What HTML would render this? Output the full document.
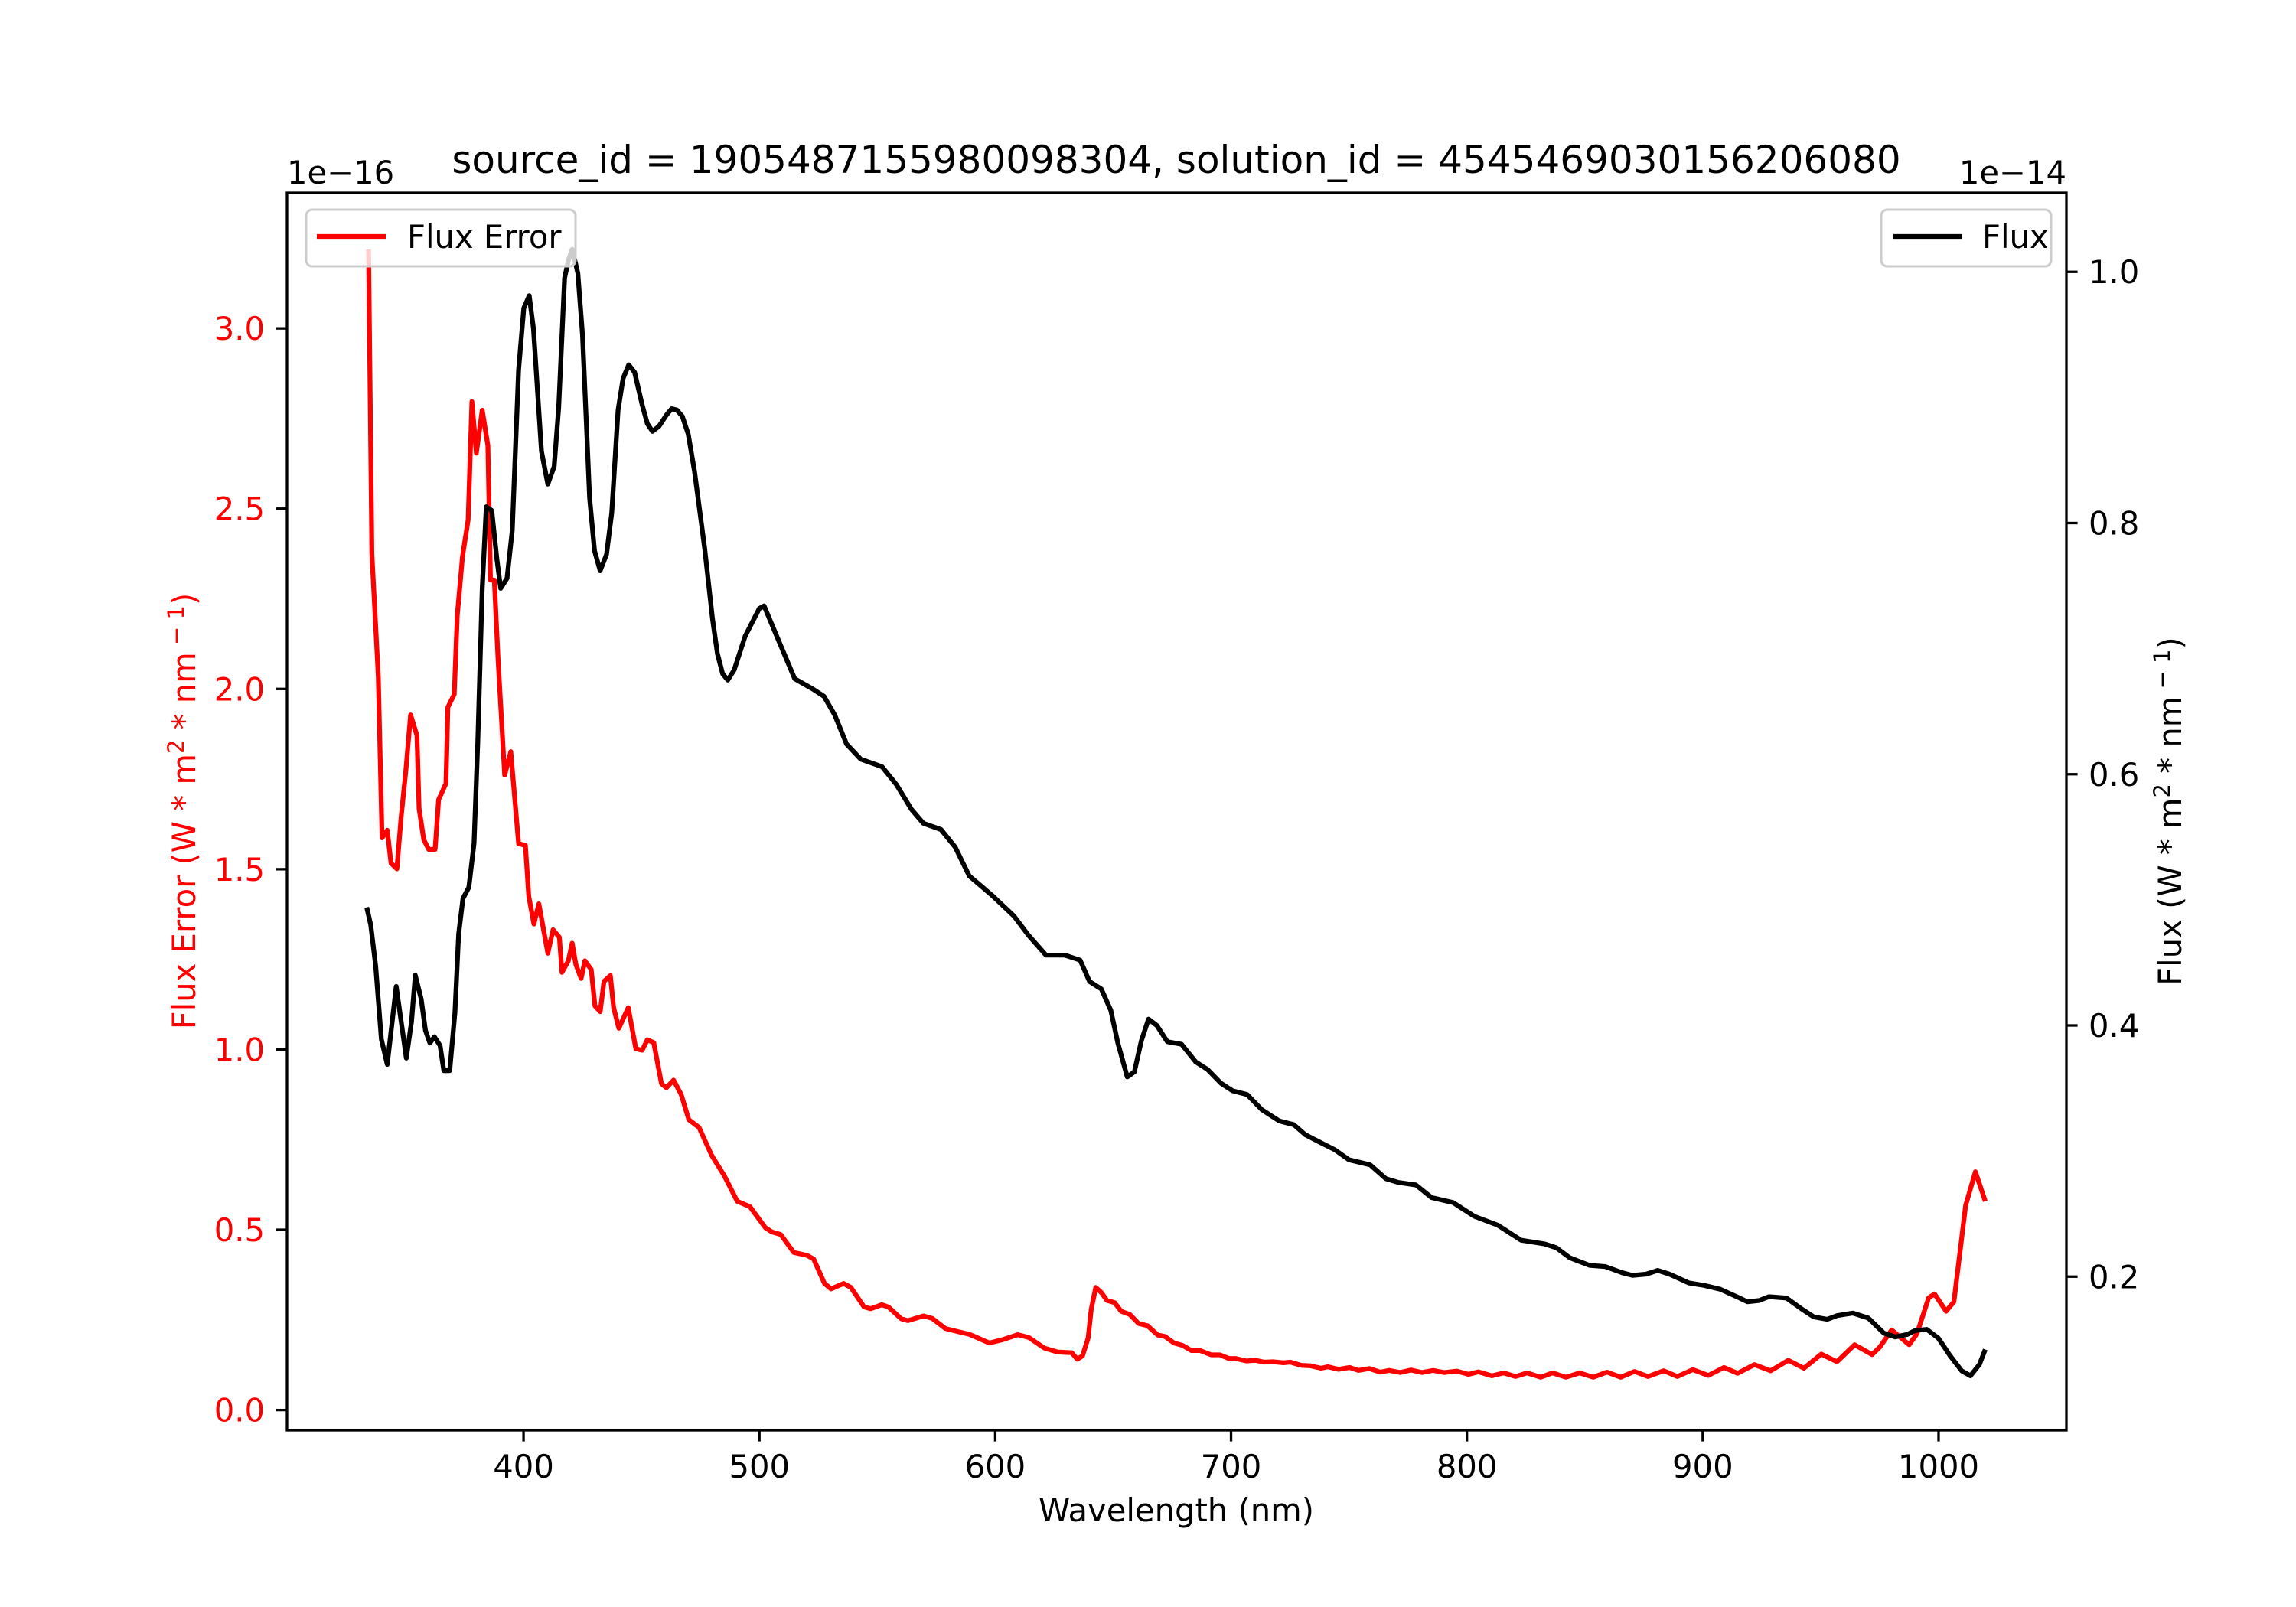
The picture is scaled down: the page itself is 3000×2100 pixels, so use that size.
<!DOCTYPE html>
<html><head><meta charset="utf-8"><style>
html,body{margin:0;padding:0;background:#fff;}
svg{display:block;font-family:"DejaVu Sans","Liberation Sans",sans-serif;}
</style></head><body>
<svg id="chart" width="3000" height="2100" viewBox="0 0 3000 2100">
<rect width="3000" height="2100" fill="#fff"/>
<g id="plot"></g>
<rect x="375" y="252" width="2325" height="1617" fill="none" stroke="#000" stroke-width="3.3"/>
<g id="xticks"></g>
<g id="lticks"></g>
<g id="rticks"></g>
<text x="1537" y="226" text-anchor="middle" font-size="50">source_id = 1905487155980098304, solution_id = 4545469030156206080</text>
<text x="375" y="240" font-size="41.7">1e−16</text>
<text x="2700" y="240" text-anchor="end" font-size="41.7">1e−14</text>
<text x="1537" y="1988" text-anchor="middle" font-size="41.7">Wavelength (nm)</text>
<text transform="translate(255,1060) rotate(-90)" text-anchor="middle" font-size="41.7" fill="#ff0000">Flux Error (W * m<tspan font-size="29" dy="-15">2</tspan><tspan dy="15"> * nm</tspan><tspan font-size="29" dy="-15"> − 1</tspan><tspan dy="15">)</tspan></text>
<text transform="translate(2850,1060) rotate(-90)" text-anchor="middle" font-size="41.7" fill="#000">Flux (W * m<tspan font-size="29" dy="-15">2</tspan><tspan dy="15"> * nm</tspan><tspan font-size="29" dy="-15"> − 1</tspan><tspan dy="15">)</tspan></text>
<g>
<rect x="400" y="274" width="352" height="74" rx="8" fill="#fff" fill-opacity="0.8" stroke="#ccc" stroke-width="3"/>
<line x1="414" y1="309" x2="504" y2="309" stroke="#ff0000" stroke-width="6.25"/>
<text x="532" y="324" font-size="41.7">Flux Error</text>
</g>
<g>
<rect x="2458" y="274" width="222" height="74" rx="8" fill="#fff" fill-opacity="0.8" stroke="#ccc" stroke-width="3"/>
<line x1="2474" y1="309" x2="2564" y2="309" stroke="#000" stroke-width="6.25"/>
<text x="2590" y="324" font-size="41.7">Flux</text>
</g>
</svg>
<script>
const errWave = [334.3,335.7,338.4,340.0,342.2,343.8,346.3,348.1,350.1,352.1,354.8,355.7,357.7,359.8,362.5,364.0,367.1,367.9,370.6,371.9,374.1,376.5,378.1,380.0,382.5,384.9,386.0,387.6,389.2,392.0,394.6,397.9,400.8,402.2,404.4,406.5,410.3,412.5,415.2,416.3,419.0,420.6,422.2,424.4,426.0,428.7,430.3,432.5,434.1,436.8,438.2,440.4,444.4,447.6,450.3,452.5,455.2,458.5,460.6,463.6,466.8,470.1,474.4,479.8,485.2,490.6,496.0,502.5,505.3,509.0,514.6,520.2,523.0,527.6,530.4,535.7,538.8,544.4,547.2,551.9,554.7,560.2,563.0,569.6,573.3,578.9,584.5,589.1,597.5,603.1,609.6,614.3,620.8,626.4,632.5,634.8,637.0,639.4,640.7,642.6,645.0,647.4,650.6,653.4,657.1,660.8,664.6,668.9,672.0,675.8,679.5,683.2,686.9,691.6,695.3,699.0,701.8,706.5,710.2,713.9,717.7,722.3,725.1,729.8,733.5,738.2,741.0,745.6,750.3,754.0,758.6,763.3,767.0,771.7,776.3,781.0,785.7,790.3,795.8,800.7,804.9,810.6,815.6,820.6,825.5,831.3,836.3,842.0,847.8,853.6,859.4,865.2,871.0,876.8,883.4,889.2,895.8,902.4,909.0,914.8,921.9,928.8,936.3,942.9,950.3,956.9,964.4,971.8,975.1,980.1,987.5,990.8,995.8,998.3,1003.2,1006.5,1011.5,1015.6,1019.8];
const errVals = [3.219,2.375,2.034,1.587,1.608,1.517,1.501,1.644,1.774,1.928,1.871,1.668,1.582,1.555,1.555,1.693,1.738,1.949,1.985,2.204,2.367,2.469,2.797,2.654,2.773,2.675,2.302,2.302,2.082,1.761,1.826,1.571,1.566,1.425,1.348,1.404,1.267,1.332,1.311,1.214,1.246,1.295,1.235,1.197,1.246,1.222,1.121,1.105,1.189,1.205,1.116,1.059,1.116,1.002,0.998,1.027,1.019,0.905,0.894,0.915,0.876,0.805,0.784,0.706,0.649,0.579,0.564,0.506,0.494,0.487,0.437,0.429,0.419,0.351,0.336,0.351,0.340,0.286,0.281,0.292,0.286,0.253,0.248,0.261,0.254,0.226,0.217,0.210,0.186,0.195,0.209,0.201,0.172,0.161,0.159,0.141,0.150,0.200,0.279,0.340,0.326,0.304,0.298,0.274,0.265,0.240,0.234,0.208,0.204,0.186,0.179,0.165,0.165,0.153,0.153,0.143,0.143,0.136,0.138,0.133,0.134,0.131,0.133,0.124,0.123,0.116,0.120,0.113,0.118,0.110,0.115,0.105,0.110,0.104,0.111,0.104,0.110,0.104,0.108,0.099,0.106,0.095,0.103,0.093,0.103,0.091,0.103,0.091,0.103,0.091,0.105,0.091,0.107,0.093,0.109,0.093,0.112,0.096,0.118,0.102,0.126,0.109,0.138,0.116,0.155,0.134,0.181,0.154,0.175,0.222,0.181,0.211,0.311,0.322,0.274,0.300,0.568,0.661,0.579];
const fluxWave = [333.5,335.2,337.3,339.7,342.2,346.0,350.3,352.5,354.1,356.6,358.4,360.3,362.2,364.6,366.2,368.7,370.9,372.5,374.3,376.8,379.0,380.6,382.5,384.2,386.5,388.7,390.3,393.0,395.2,397.9,400.1,402.4,404.2,407.6,410.3,413.0,414.9,417.4,419.0,420.6,423.0,425.0,428.0,430.1,432.5,435.2,437.4,440.1,442.2,444.6,447.1,450.3,452.5,454.7,457.4,460.6,462.8,465.0,467.3,469.8,472.5,476.8,480.1,482.2,484.4,486.6,489.3,494,500,502,507.6,515,522.5,527.4,532,537,543,552,558,564.5,569.5,577,583,589,594,599,608,614,621.5,629.5,636,640,645,649,652,656,659,662,665,668.5,673,679,685,690,695.7,700.6,706.8,713,720.4,726.6,731.5,737.7,744,750,759,765.6,771,778.4,785.0,794.1,803.2,813.1,823.0,833.0,837.9,843.7,852.0,858.6,866.0,870.2,876.0,880.9,885.9,894.1,900.7,907.4,915.6,918.9,923.9,928.0,935.5,942.1,947.0,952.8,957.0,963.6,970.2,976.8,981.7,986.7,990.0,995.0,999.9,1004.9,1009.8,1013.5,1017.3,1019.8];
const fluxVals = [0.494,0.480,0.447,0.389,0.369,0.431,0.374,0.403,0.440,0.421,0.396,0.386,0.391,0.384,0.364,0.364,0.410,0.473,0.501,0.510,0.545,0.626,0.748,0.813,0.810,0.771,0.748,0.756,0.794,0.922,0.971,0.981,0.955,0.857,0.831,0.845,0.892,0.995,1.009,1.018,0.999,0.950,0.820,0.778,0.762,0.775,0.808,0.890,0.915,0.926,0.920,0.894,0.879,0.873,0.877,0.886,0.891,0.890,0.885,0.871,0.841,0.780,0.724,0.696,0.680,0.675,0.683,0.710,0.732,0.734,0.709,0.676,0.668,0.662,0.647,0.624,0.612,0.606,0.592,0.572,0.561,0.556,0.542,0.519,0.511,0.503,0.487,0.472,0.456,0.456,0.452,0.435,0.429,0.412,0.386,0.359,0.363,0.388,0.405,0.400,0.387,0.385,0.371,0.365,0.354,0.348,0.345,0.333,0.324,0.321,0.313,0.307,0.301,0.293,0.289,0.278,0.275,0.273,0.263,0.259,0.248,0.241,0.229,0.226,0.223,0.215,0.209,0.208,0.203,0.201,0.202,0.205,0.202,0.195,0.193,0.190,0.183,0.180,0.181,0.184,0.183,0.174,0.168,0.166,0.169,0.171,0.167,0.155,0.152,0.154,0.157,0.158,0.151,0.137,0.125,0.121,0.130,0.142];
const xTicks = [400,500,600,700,800,900,1000];
const xTickLabels = ["400","500","600","700","800","900","1000"];
const leftTicks = [0,0.5,1.0,1.5,2.0,2.5,3.0];
const leftTickLabels = ["0.0","0.5","1.0","1.5","2.0","2.5","3.0"];
const rightTicks = [0.2,0.4,0.6,0.8,1.0];
const rightTickLabels = ["0.2","0.4","0.6","0.8","1.0"];

const L=375,R=2700,T=252,B=1869;
const XMIN=299.7,XMAX=1054.2, LMIN=-0.056,LMAX=3.376, RMIN=0.0777,RMAX=1.0629;
const xs=v=>L+(v-XMIN)/(XMAX-XMIN)*(R-L);
const yl=v=>B-(v-LMIN)/(LMAX-LMIN)*(B-T);
const yr=v=>B-(v-RMIN)/(RMAX-RMIN)*(B-T);
const NS='http://www.w3.org/2000/svg';
function mk(tag,attrs,parent){const e=document.createElementNS(NS,tag);for(const k in attrs)e.setAttribute(k,attrs[k]);parent.appendChild(e);return e;}
const plot=document.getElementById('plot');
const dE=errWave.map((w,i)=>(i?'L':'M')+xs(w).toFixed(1)+','+yl(errVals[i]).toFixed(1)).join('');
const pe=mk('path',{d:dE,fill:'none',stroke:'#ff0000','stroke-width':6.25,'stroke-linejoin':'round'},plot);


const dF=fluxWave.map((w,i)=>(i?'L':'M')+xs(w).toFixed(1)+','+yr(fluxVals[i]).toFixed(1)).join('');
const pf=mk('path',{d:dF,fill:'none',stroke:'#000','stroke-width':6.25,'stroke-linejoin':'round'},plot);


const gx=document.getElementById('xticks');
xTicks.forEach((v,i)=>{const x=xs(v);
 const t=mk('line',{x1:x,y1:B,x2:x,y2:B+14.6,stroke:'#000','stroke-width':3.3},gx);
 
 
 const tx=mk('text',{x:x,y:B+62,'text-anchor':'middle','font-size':41.7},gx);tx.textContent=xTickLabels[i];
 
 });
const gl=document.getElementById('lticks');
leftTicks.forEach((v,i)=>{const y=yl(v);
 const t=mk('line',{x1:L-14.6,y1:y,x2:L,y2:y,stroke:'#000','stroke-width':3.3},gl);
 
 
 const tx=mk('text',{x:L-29,y:y+15,'text-anchor':'end','font-size':41.7,fill:'#ff0000'},gl);tx.textContent=leftTickLabels[i];
 
 });
const gr=document.getElementById('rticks');
rightTicks.forEach((v,i)=>{const y=yr(v);
 const t=mk('line',{x1:R,y1:y,x2:R+14.6,y2:y,stroke:'#000','stroke-width':3.3},gr);
 
 
 const tx=mk('text',{x:R+29,y:y+15,'text-anchor':'start','font-size':41.7},gr);tx.textContent=rightTickLabels[i];
 
 });
</script>
</body></html>
